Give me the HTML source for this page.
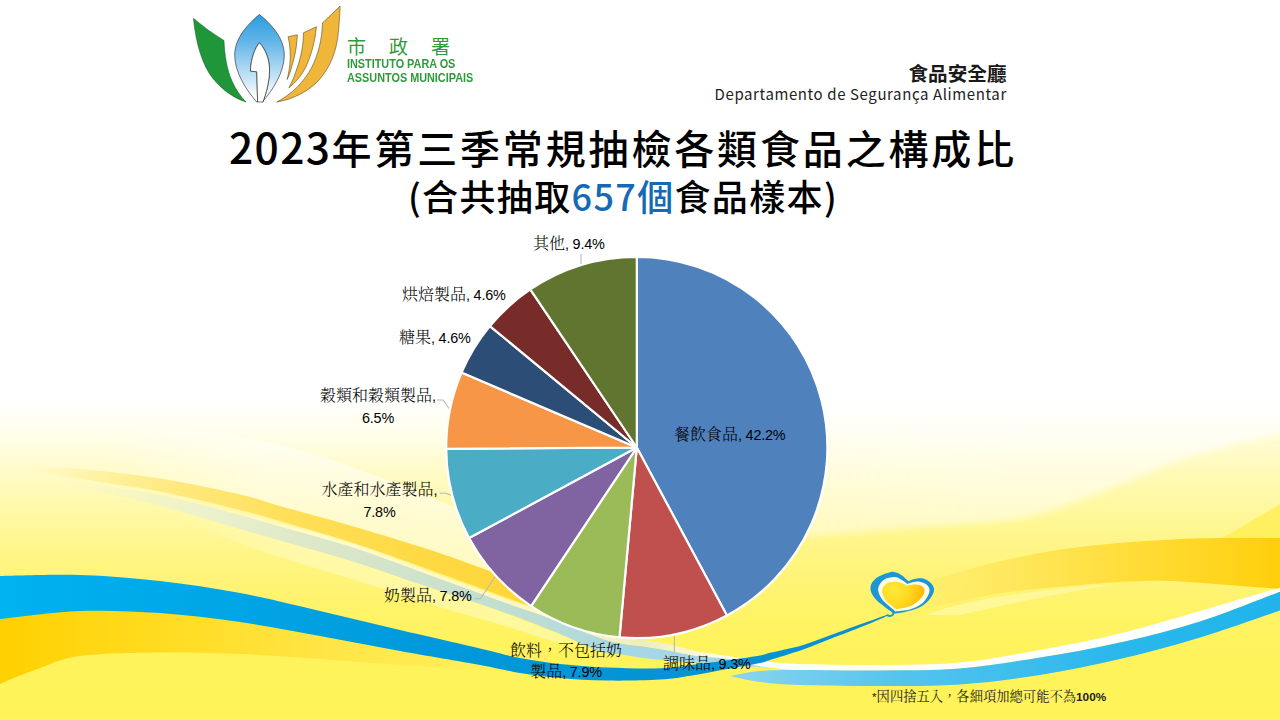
<!DOCTYPE html>
<html lang="zh-Hant">
<head>
<meta charset="utf-8">
<title>2023年第三季常規抽檢各類食品之構成比</title>
<style>
html,body{margin:0;padding:0;}
body{width:1280px;height:720px;overflow:hidden;position:relative;background:#fff;
  font-family:"Liberation Sans","Noto Sans CJK TC","Noto Sans CJK SC",sans-serif;}
#bg{position:absolute;left:0;top:0;width:1280px;height:720px;display:block;}
.abs{position:absolute;white-space:nowrap;line-height:1;}
.title{font-family:"Noto Sans CJK TC","Noto Sans CJK SC","Liberation Sans",sans-serif;font-weight:500;color:#000;}
#t1{left:0;width:1246px;text-align:center;top:118px;font-size:40px;line-height:56px;letter-spacing:2.85px;}
#t1 span{font-size:42.5px;letter-spacing:1.4px;}
#t2{left:0;width:1246px;text-align:center;top:169px;font-size:36px;line-height:52px;letter-spacing:1.35px;}
#t2 b{font-weight:500;color:#166ab3;}
.lbl{font-family:"Liberation Sans","Noto Serif CJK TC","Noto Serif CJK SC",serif;font-size:16px;font-weight:300;color:#000;text-align:center;line-height:21px;}
.lbl i{font-style:normal;font-size:14.4px;font-weight:400;letter-spacing:-0.2px;}
#dept1{right:273.5px;top:62px;font-size:19.6px;font-weight:700;color:#1a1a1a;font-family:"Noto Sans CJK TC","Noto Sans CJK SC",sans-serif;line-height:22px;}
#dept2{right:273.2px;top:84px;font-size:15px;letter-spacing:0.6px;color:#222;font-family:"Noto Sans CJK TC","Liberation Sans",sans-serif;line-height:20px;}
#org1{left:347px;top:34.5px;font-size:19px;font-weight:400;color:#2e9a3a;letter-spacing:23px;font-family:"Noto Sans CJK TC","Noto Sans CJK SC",sans-serif;line-height:22px;}
.org2{left:347.3px;font-size:13px;font-weight:700;color:#2e9a3a;font-family:"Liberation Sans",sans-serif;transform-origin:0 0;transform:scaleX(0.835);}
#foot{left:872px;top:687px;font-size:13.3px;color:#222;font-family:"Liberation Sans","Noto Serif CJK TC","Noto Serif CJK SC",serif;line-height:20px;}
#foot i{font-style:normal;font-size:11.8px;font-weight:700;}
#foot i.s{font-weight:400;}
</style>
</head>
<body>
<svg id="bg" width="1280" height="720" viewBox="0 0 1280 720">
<defs>
<linearGradient id="gbg" x1="0" y1="0" x2="0" y2="720" gradientUnits="userSpaceOnUse">
<stop offset="0" stop-color="#ffffff"/>
<stop offset="0.555" stop-color="#ffffff"/>
<stop offset="0.60" stop-color="#fffeec"/>
<stop offset="0.655" stop-color="#fffbc8"/>
<stop offset="0.72" stop-color="#fff8a2"/>
<stop offset="0.78" stop-color="#fff582"/>
<stop offset="0.835" stop-color="#fff36c"/>
<stop offset="0.89" stop-color="#fff35e"/>
<stop offset="1" stop-color="#fff358"/>
</linearGradient>
</defs>
<rect width="1280" height="720" fill="url(#gbg)"/>
<defs>
<linearGradient id="gBlue" x1="0" y1="0" x2="900" y2="0" gradientUnits="userSpaceOnUse">
<stop offset="0" stop-color="#00b2f0"/><stop offset="0.25" stop-color="#00a6e6"/><stop offset="0.5" stop-color="#0098da"/><stop offset="1" stop-color="#0a8fd0"/>
</linearGradient>
<linearGradient id="gGoldL" x1="0" y1="0" x2="540" y2="0" gradientUnits="userSpaceOnUse">
<stop offset="0" stop-color="#ffd000"/><stop offset="0.3" stop-color="#ffdc20"/><stop offset="0.6" stop-color="#ffe545"/><stop offset="0.8" stop-color="#ffea52" stop-opacity="0.9"/><stop offset="1" stop-color="#fff060" stop-opacity="0"/>
</linearGradient>
<linearGradient id="gGoldD" x1="30" y1="0" x2="560" y2="0" gradientUnits="userSpaceOnUse">
<stop offset="0" stop-color="#ffe470" stop-opacity="0"/><stop offset="0.25" stop-color="#ffe470" stop-opacity="0.75"/><stop offset="0.5" stop-color="#ffdf58"/><stop offset="0.8" stop-color="#ffd840"/><stop offset="1" stop-color="#ffd535"/>
</linearGradient>
<linearGradient id="gGray" x1="60" y1="0" x2="770" y2="0" gradientUnits="userSpaceOnUse">
<stop offset="0" stop-color="#eef3d2" stop-opacity="0"/><stop offset="0.2" stop-color="#eaf1d0" stop-opacity="0.9"/><stop offset="0.35" stop-color="#dde8c8"/><stop offset="0.52" stop-color="#cde2cc"/><stop offset="0.7" stop-color="#b8dcd6"/><stop offset="0.8" stop-color="#a6d7e6"/><stop offset="0.93" stop-color="#a4d6ea"/><stop offset="1" stop-color="#9fd4ec"/>
</linearGradient>
<linearGradient id="gLblue" x1="732" y1="0" x2="1280" y2="0" gradientUnits="userSpaceOnUse">
<stop offset="0" stop-color="#8ad4ee"/><stop offset="0.3" stop-color="#55c4ee"/><stop offset="0.7" stop-color="#2ab8ec"/><stop offset="1" stop-color="#20b4ea"/>
</linearGradient>
<linearGradient id="gGoldR" x1="905" y1="0" x2="1280" y2="0" gradientUnits="userSpaceOnUse">
<stop offset="0" stop-color="#ffec68" stop-opacity="0"/><stop offset="0.12" stop-color="#ffec68" stop-opacity="0.9"/><stop offset="0.3" stop-color="#ffe75c"/><stop offset="0.5" stop-color="#ffe044"/><stop offset="0.75" stop-color="#ffd828"/><stop offset="1" stop-color="#ffce0c"/>
</linearGradient>
<linearGradient id="gWedgeA" x1="0" y1="430" x2="0" y2="640" gradientUnits="userSpaceOnUse">
<stop offset="0" stop-color="#fff9b0" stop-opacity="0.3"/><stop offset="0.5" stop-color="#fff580" stop-opacity="0.4"/><stop offset="1" stop-color="#fff262" stop-opacity="0"/>
</linearGradient>
<linearGradient id="gSwC" x1="100" y1="0" x2="560" y2="0" gradientUnits="userSpaceOnUse">
<stop offset="0" stop-color="#ffffff" stop-opacity="0"/><stop offset="0.35" stop-color="#ffffff" stop-opacity="0.45"/><stop offset="1" stop-color="#ffffff" stop-opacity="0.55"/>
</linearGradient>
<linearGradient id="gCream2" x1="160" y1="0" x2="620" y2="0" gradientUnits="userSpaceOnUse">
<stop offset="0" stop-color="#fffbc0" stop-opacity="0"/><stop offset="0.3" stop-color="#fffbc0" stop-opacity="0.6"/><stop offset="0.85" stop-color="#fffbc0" stop-opacity="0.6"/><stop offset="1" stop-color="#fffbc0" stop-opacity="0"/>
</linearGradient>
<linearGradient id="gWhiteR" x1="640" y1="0" x2="1000" y2="0" gradientUnits="userSpaceOnUse">
<stop offset="0" stop-color="#ffffff" stop-opacity="0"/><stop offset="0.5" stop-color="#ffffff" stop-opacity="0.38"/><stop offset="1" stop-color="#ffffff" stop-opacity="0.45"/>
</linearGradient>
<filter id="fBlur" filterUnits="userSpaceOnUse" x="560" y="360" width="760" height="380"><feGaussianBlur stdDeviation="3"/></filter>
<linearGradient id="gCreamT" x1="200" y1="0" x2="770" y2="0" gradientUnits="userSpaceOnUse">
<stop offset="0" stop-color="#fffbd0" stop-opacity="0"/><stop offset="0.2" stop-color="#fffbd0" stop-opacity="0.9"/><stop offset="0.65" stop-color="#fbf6c4"/><stop offset="0.78" stop-color="#eeeeb8"/><stop offset="0.9" stop-color="#fdfbe4"/><stop offset="1" stop-color="#ffffff"/>
</linearGradient>
</defs>
<g filter="url(#fBlur)"><path d="M700.0,560.0 C710.0,557.0 726.7,547.3 760.0,542.0 C793.3,536.7 856.7,532.0 900.0,528.0 C943.3,524.0 986.7,524.0 1020.0,518.0 C1053.3,512.0 1075.7,500.8 1100.0,492.0 C1124.3,483.2 1144.3,472.8 1166.0,465.0 C1187.7,457.2 1209.3,450.8 1230.0,445.0 C1250.7,439.2 1280.0,432.5 1290.0,430.0 L1290,395 L700,395 Z" fill="url(#gWhiteR)"/>
<path d="M700.0,560.0 C710.0,557.0 726.7,547.3 760.0,542.0 C793.3,536.7 856.7,532.0 900.0,528.0 C943.3,524.0 986.7,524.0 1020.0,518.0 C1053.3,512.0 1075.7,500.8 1100.0,492.0 C1124.3,483.2 1144.3,472.8 1166.0,465.0 C1187.7,457.2 1209.3,450.8 1230.0,445.0 C1250.7,439.2 1280.0,432.5 1290.0,430.0 L1290,720 L700,720 Z" fill="url(#gWedgeA)"/></g>
<path d="M1160.0,578.0 C1165.0,574.7 1180.2,564.3 1190.0,558.0 C1199.8,551.7 1209.0,546.0 1219.0,540.0 C1229.0,534.0 1238.2,529.0 1250.0,522.0 C1261.8,515.0 1283.3,502.0 1290.0,498.0 L1290,560 L1160,578 Z" fill="#ffee58" opacity="0.85"/>
<path d="M120.0,430.0 C133.3,430.3 173.3,429.5 200.0,432.0 C226.7,434.5 254.2,439.0 280.0,445.0 C305.8,451.0 330.0,459.3 355.0,468.0 C380.0,476.7 408.2,488.3 430.0,497.0 C451.8,505.7 464.3,510.8 486.0,520.0 C507.7,529.2 547.7,546.7 560.0,552.0 L560.0,597.0 C547.7,592.5 507.7,577.5 486.0,569.7 C464.3,561.9 451.8,557.1 430.0,550.0 C408.2,542.9 380.0,534.3 355.0,527.0 C330.0,519.7 299.2,511.4 280.0,506.0 C260.8,500.6 260.0,499.1 240.0,494.5 C220.0,489.9 186.7,482.8 160.0,478.5 C133.3,474.2 93.3,470.6 80.0,469.0 Z" fill="url(#gSwC)"/>
<path d="M160.0,506.0 C173.3,509.8 220.0,523.2 240.0,529.0 C260.0,534.8 260.8,535.1 280.0,540.6 C299.2,546.1 330.0,554.4 355.0,562.2 C380.0,570.0 405.0,579.1 430.0,587.5 C455.0,595.9 483.3,605.0 505.0,612.8 C526.7,620.5 540.8,627.8 560.0,634.0 C579.2,640.2 610.0,647.3 620.0,650.0 L620.0,652.0 C610.0,650.5 579.2,647.3 560.0,643.0 C540.8,638.7 526.7,632.5 505.0,626.0 C483.3,619.5 455.0,611.7 430.0,604.0 C405.0,596.3 380.0,587.8 355.0,580.0 C330.0,572.2 299.2,563.2 280.0,557.0 C260.8,550.8 260.0,550.5 240.0,543.0 C220.0,535.5 173.3,517.2 160.0,512.0 Z" fill="url(#gCream2)"/>
<path d="M30.0,466.0 C38.3,466.5 58.3,466.9 80.0,469.0 C101.7,471.1 133.3,474.2 160.0,478.5 C186.7,482.8 220.0,489.9 240.0,494.5 C260.0,499.1 260.8,500.6 280.0,506.0 C299.2,511.4 330.0,519.7 355.0,527.0 C380.0,534.3 408.2,542.9 430.0,550.0 C451.8,557.1 464.3,561.9 486.0,569.7 C507.7,577.5 547.7,592.5 560.0,597.0 L560.0,618.0 C550.8,614.5 526.7,605.0 505.0,597.0 C483.3,589.0 455.0,578.6 430.0,569.7 C405.0,560.8 380.0,551.5 355.0,543.4 C330.0,535.3 299.2,526.6 280.0,521.0 C260.8,515.4 260.0,514.9 240.0,510.0 C220.0,505.1 186.7,496.7 160.0,491.5 C133.3,486.3 101.7,482.6 80.0,479.0 C58.3,475.4 38.3,471.5 30.0,470.0 Z" fill="url(#gGoldD)"/>
<path d="M60.0,478.0 C63.3,478.7 63.3,479.2 80.0,482.0 C96.7,484.8 133.3,489.5 160.0,495.0 C186.7,500.5 220.0,509.8 240.0,515.0 C260.0,520.2 260.8,521.0 280.0,526.5 C299.2,532.0 330.0,539.9 355.0,548.0 C380.0,556.1 405.0,566.2 430.0,575.3 C455.0,584.4 483.3,594.7 505.0,602.5 C526.7,610.3 544.2,616.1 560.0,622.0 C575.8,627.9 589.5,634.4 600.0,638.0 C610.5,641.6 615.2,642.3 623.0,643.8 C630.8,645.2 639.2,645.7 647.0,646.9 C654.8,648.1 662.2,649.4 670.0,650.8 C677.8,652.2 684.8,654.2 694.0,655.5 C703.2,656.8 716.5,657.6 725.0,658.6 C733.5,659.6 737.5,660.5 745.0,661.5 C752.5,662.5 765.8,664.0 770.0,664.5 L770.0,667.5 C765.8,667.3 752.5,666.9 745.0,666.5 C737.5,666.1 733.5,666.0 725.0,665.3 C716.5,664.6 703.2,663.2 694.0,662.5 C684.8,661.8 677.8,661.6 670.0,661.0 C662.2,660.4 654.8,659.6 647.0,658.6 C639.2,657.6 630.8,655.9 623.0,654.7 C615.2,653.5 610.5,655.0 600.0,651.5 C589.5,648.0 575.8,640.5 560.0,634.0 C544.2,627.5 526.7,620.5 505.0,612.8 C483.3,605.0 455.0,595.9 430.0,587.5 C405.0,579.1 380.0,570.0 355.0,562.2 C330.0,554.4 299.2,546.1 280.0,540.6 C260.8,535.1 260.0,534.8 240.0,529.0 C220.0,523.2 186.7,513.0 160.0,506.0 C133.3,499.0 96.7,491.3 80.0,487.0 C63.3,482.7 63.3,481.2 60.0,480.0 Z" fill="url(#gGray)"/>
<path d="M200.0,502.0 C213.3,505.5 254.2,515.9 280.0,523.0 C305.8,530.1 330.0,536.4 355.0,544.5 C380.0,552.6 405.0,562.5 430.0,571.5 C455.0,580.5 483.3,590.8 505.0,598.5 C526.7,606.2 544.2,611.8 560.0,617.5 C575.8,623.2 589.5,629.2 600.0,632.5 C610.5,635.8 615.2,636.1 623.0,637.5 C630.8,638.9 639.2,639.4 647.0,640.6 C654.8,641.8 662.2,642.8 670.0,644.5 C677.8,646.2 684.8,649.0 694.0,650.8 C703.2,652.6 716.5,654.1 725.0,655.5 C733.5,656.9 737.5,657.9 745.0,659.0 C752.5,660.1 765.8,661.5 770.0,662.0 L770.0,664.5 C765.8,664.0 752.5,662.5 745.0,661.5 C737.5,660.5 733.5,659.6 725.0,658.6 C716.5,657.6 703.2,656.8 694.0,655.5 C684.8,654.2 677.8,652.2 670.0,650.8 C662.2,649.4 654.8,648.1 647.0,646.9 C639.2,645.7 630.8,645.2 623.0,643.8 C615.2,642.3 610.5,641.6 600.0,638.0 C589.5,634.4 575.8,627.9 560.0,622.0 C544.2,616.1 526.7,610.3 505.0,602.5 C483.3,594.7 455.0,584.4 430.0,575.3 C405.0,566.2 380.0,556.1 355.0,548.0 C330.0,539.9 305.8,533.8 280.0,526.5 C254.2,519.2 213.3,508.2 200.0,504.5 Z" fill="url(#gCreamT)"/>
<path d="M926,615 C960,602 1010,592 1112,584 C1060,594 1010,603 960,615 Z" fill="#fff9a8" opacity="0.75"/>
<path d="M905.0,590.0 C908.7,588.5 920.8,583.2 927.0,581.0 C933.2,578.8 929.0,580.5 942.0,577.0 C955.0,573.5 982.0,565.0 1005.0,560.0 C1028.0,555.0 1050.8,550.5 1080.0,547.0 C1109.2,543.5 1146.7,540.5 1180.0,539.0 C1213.3,537.5 1261.7,538.2 1280.0,538.0 C1298.3,537.8 1288.3,538.0 1290.0,538.0 L1290.0,590.0 C1288.3,589.8 1298.3,590.4 1280.0,589.0 C1261.7,587.6 1205.0,582.8 1180.0,581.5 C1155.0,580.2 1146.7,580.9 1130.0,581.5 C1113.3,582.1 1100.8,583.2 1080.0,585.0 C1059.2,586.8 1028.0,589.2 1005.0,592.5 C982.0,595.8 958.7,601.2 942.0,605.0 C925.3,608.8 911.2,613.3 905.0,615.0 Z" fill="url(#gGoldR)"/>
<path d="M-10.0,600.0 C-8.3,600.0 -15.0,600.0 0.0,600.0 C15.0,600.0 53.3,599.2 80.0,600.0 C106.7,600.8 133.3,602.5 160.0,605.0 C186.7,607.5 213.3,610.8 240.0,615.0 C266.7,619.2 293.3,624.5 320.0,630.0 C346.7,635.5 373.3,642.7 400.0,648.0 C426.7,653.3 456.7,658.3 480.0,662.0 C503.3,665.7 530.0,668.7 540.0,670.0 L540.0,672.0 C530.0,671.7 503.3,671.2 480.0,670.0 C456.7,668.8 426.7,666.8 400.0,665.0 C373.3,663.2 346.7,660.8 320.0,659.0 C293.3,657.2 266.7,655.1 240.0,654.0 C213.3,652.9 186.7,652.2 160.0,652.5 C133.3,652.8 100.0,653.4 80.0,656.0 C60.0,658.6 53.3,663.3 40.0,668.0 C26.7,672.7 8.3,680.3 0.0,684.0 C-8.3,687.7 -8.3,689.0 -10.0,690.0 Z" fill="url(#gGoldL)"/>
<path d="M745.0,659.0 C749.2,659.5 760.8,661.2 770.0,662.0 C779.2,662.8 781.7,663.5 800.0,664.0 C818.3,664.5 853.3,665.2 880.0,665.0 C906.7,664.8 933.3,665.0 960.0,662.5 C986.7,660.0 1013.3,654.8 1040.0,650.0 C1066.7,645.2 1093.3,640.0 1120.0,633.5 C1146.7,627.0 1174.7,618.2 1200.0,611.0 C1225.3,603.8 1257.0,594.2 1272.0,590.0 C1287.0,585.8 1287.0,586.7 1290.0,586.0 L1290.0,588.0 C1288.3,588.6 1295.0,586.1 1280.0,591.7 C1265.0,597.3 1226.7,613.0 1200.0,621.5 C1173.3,630.0 1146.7,636.5 1120.0,642.5 C1093.3,648.5 1066.7,653.2 1040.0,657.5 C1013.3,661.8 986.7,666.3 960.0,668.5 C933.3,670.7 906.7,670.2 880.0,670.5 C853.3,670.8 818.3,670.5 800.0,670.0 C781.7,669.5 779.2,668.5 770.0,667.5 C760.8,666.5 749.2,664.6 745.0,664.0 Z" fill="#ffffff"/>
<path d="M730.0,676.0 C735.0,675.2 748.3,672.0 760.0,671.0 C771.7,670.0 780.0,670.1 800.0,670.0 C820.0,669.9 853.3,670.8 880.0,670.5 C906.7,670.2 933.3,670.7 960.0,668.5 C986.7,666.3 1013.3,661.8 1040.0,657.5 C1066.7,653.2 1093.3,648.5 1120.0,642.5 C1146.7,636.5 1173.3,630.0 1200.0,621.5 C1226.7,613.0 1265.0,597.3 1280.0,591.7 C1295.0,586.1 1288.3,588.6 1290.0,588.0 L1290.0,607.0 C1288.3,607.6 1295.0,605.4 1280.0,610.5 C1265.0,615.6 1226.7,629.4 1200.0,637.5 C1173.3,645.6 1146.7,652.8 1120.0,659.0 C1093.3,665.2 1066.7,670.8 1040.0,675.0 C1013.3,679.2 986.7,682.7 960.0,684.5 C933.3,686.3 906.7,685.9 880.0,686.0 C853.3,686.1 820.0,685.7 800.0,685.0 C780.0,684.3 771.7,683.5 760.0,682.0 C748.3,680.5 735.0,677.0 730.0,676.0 Z" fill="url(#gLblue)"/>
<path d="M-10.0,577.0 C-8.3,576.8 -15.0,576.3 0.0,576.0 C15.0,575.7 53.3,574.2 80.0,575.0 C106.7,575.8 133.3,578.0 160.0,581.0 C186.7,584.0 213.3,588.0 240.0,593.0 C266.7,598.0 293.3,604.8 320.0,611.0 C346.7,617.2 373.3,623.8 400.0,630.0 C426.7,636.2 460.0,643.8 480.0,648.5 C500.0,653.2 506.7,655.4 520.0,658.0 C533.3,660.6 545.5,662.4 560.0,664.0 C574.5,665.6 590.3,666.8 607.0,667.5 C623.7,668.2 645.3,668.8 660.0,668.3 C674.7,667.8 683.3,666.0 695.0,664.6 C706.7,663.2 719.2,661.5 730.0,660.0 C740.8,658.5 753.3,656.7 760.0,655.5 C766.7,654.3 762.9,654.5 770.0,652.8 C777.1,651.1 791.7,648.4 802.5,645.2 C813.3,642.0 824.2,637.4 835.0,633.5 C845.8,629.6 859.0,624.8 867.5,621.8 C876.0,618.8 882.5,616.4 885.8,615.2 C889.1,614.0 887.1,614.8 887.4,614.7 L887.4,615.6 C887.1,615.8 889.1,615.0 885.8,616.5 C882.5,618.0 876.0,621.0 867.5,624.4 C859.0,627.8 845.8,632.9 835.0,637.1 C824.2,641.3 813.3,646.0 802.5,649.8 C791.7,653.6 777.1,657.7 770.0,659.9 C762.9,662.1 766.7,661.5 760.0,663.0 C753.3,664.5 740.8,666.6 730.0,668.6 C719.2,670.6 706.7,673.2 695.0,675.0 C683.3,676.8 674.7,678.7 660.0,679.6 C645.3,680.5 623.7,680.9 607.0,680.6 C590.3,680.3 574.5,679.3 560.0,678.0 C545.5,676.7 533.3,675.2 520.0,673.0 C506.7,670.8 500.0,668.7 480.0,665.0 C460.0,661.3 426.7,655.8 400.0,651.0 C373.3,646.2 346.7,640.8 320.0,636.0 C293.3,631.2 266.7,625.8 240.0,622.0 C213.3,618.2 186.7,614.8 160.0,613.0 C133.3,611.2 106.7,610.0 80.0,611.0 C53.3,612.0 15.0,617.5 0.0,619.0 C-15.0,620.5 -8.3,619.8 -10.0,620.0 Z" fill="url(#gBlue)"/>
<defs>
<radialGradient id="gHeart" cx="894" cy="590" r="34" gradientUnits="userSpaceOnUse">
<stop offset="0" stop-color="#ffea38"/><stop offset="0.45" stop-color="#ffd820"/><stop offset="0.8" stop-color="#ffbe08"/><stop offset="1" stop-color="#ffae00"/>
</radialGradient>
</defs>
<path fill="#1b97d5" d="M908.3,581.2 C907.3,580.3 904.4,577.2 902.4,575.8 C900.4,574.4 898.2,573.2 896.1,572.6 C894.0,572.0 893.1,571.3 889.8,572.2 C886.5,573.1 879.4,575.5 876.2,578.1 C873.0,580.7 870.5,584.5 870.4,588.0 C870.2,591.5 872.5,595.3 875.3,598.8 C878.1,602.2 883.9,606.3 887.1,608.7 C890.3,611.1 893.4,612.6 894.7,613.4 C896.4,613.1 901.1,612.8 905.1,611.9 C909.1,611.0 914.8,609.7 918.7,607.8 C922.6,605.9 926.1,603.5 928.6,600.6 C931.1,597.8 933.5,593.6 934.0,590.7 C934.5,587.9 933.1,585.5 931.3,583.5 C929.5,581.5 926.1,579.2 923.2,578.5 C920.4,577.8 916.7,578.5 914.2,579.0 C911.7,579.5 909.3,580.8 908.3,581.2 Z"/>
<path fill="#fffbe0" d="M907.4,583.9 C906.3,583.2 903.2,580.6 901.0,579.5 C898.8,578.4 897.2,577.0 894.3,577.1 C891.4,577.2 886.2,577.9 883.5,579.9 C880.8,581.9 878.4,585.8 878.1,588.9 C877.8,592.0 880.0,596.0 881.7,598.8 C883.4,601.6 886.2,603.4 888.5,605.5 C890.8,607.6 894.1,610.4 895.2,611.4 C897.8,611.0 905.8,610.7 910.5,609.2 C915.2,607.7 920.0,605.3 923.2,602.4 C926.4,599.5 928.9,594.5 929.5,591.6 C930.1,588.7 928.4,586.4 926.8,584.8 C925.1,583.1 921.9,582.2 919.6,581.7 C917.3,581.2 915.2,581.7 913.2,582.1 C911.2,582.5 908.4,583.6 907.4,583.9 Z"/>
<path fill="url(#gHeart)" d="M906.9,585.7 C905.9,585.2 903.1,583.5 901.0,582.8 C898.9,582.1 896.8,581.5 894.3,581.7 C891.8,581.9 888.2,582.4 886.2,583.9 C884.2,585.4 882.2,588.1 882.1,590.7 C882.0,593.3 883.9,597.4 885.3,599.7 C886.7,602.0 888.7,602.9 890.5,604.5 C892.3,606.1 895.2,608.4 896.1,609.2 C898.5,608.7 906.4,607.7 910.5,606.0 C914.6,604.3 918.2,601.2 920.5,598.8 C922.8,596.4 924.2,593.6 924.5,591.6 C924.8,589.6 923.6,587.7 922.3,586.6 C921.0,585.5 918.7,585.1 916.9,584.8 C915.1,584.5 913.1,584.6 911.4,584.8 C909.7,584.9 907.6,585.6 906.9,585.7 Z"/>
<path fill="none" stroke="#1b97d5" stroke-width="2" stroke-linecap="round" d="M892,610.5 C894,612.5 893.8,614.8 891.5,615.6 C890,616.1 888.6,615.9 887.6,615.3"/>

<rect x="0" y="719" width="1280" height="1" fill="#fff56c"/>

<g fill="none" stroke="#b8b8b8" stroke-width="1.1">
<path d="M581,254 V265"/>
<path d="M437,400 H443 L450.5,410.5"/>
<path d="M439.8,493.3 H446 L451.5,495.5"/>
<path d="M474.6,598.8 H480.4 L495.4,576.3"/>
<path d="M674.4,633 V652.5"/>
</g>
<g stroke="#ffffff" stroke-width="2.2" stroke-linejoin="round">
<path d="M636.8,447.5 L636.80,256.90 A190.6,190.6 0 0 1 726.92,615.45 Z" fill="#4F81BD"/>
<path d="M636.8,447.5 L726.92,615.45 A190.6,190.6 0 0 1 619.51,637.31 Z" fill="#C0504D"/>
<path d="M636.8,447.5 L619.51,637.31 A190.6,190.6 0 0 1 531.05,606.07 Z" fill="#9BBB59"/>
<path d="M636.8,447.5 L531.05,606.07 A190.6,190.6 0 0 1 469.07,538.03 Z" fill="#8064A2"/>
<path d="M636.8,447.5 L469.07,538.03 A190.6,190.6 0 0 1 446.20,448.87 Z" fill="#4BACC6"/>
<path d="M636.8,447.5 L446.20,448.87 A190.6,190.6 0 0 1 461.55,372.57 Z" fill="#F79646"/>
<path d="M636.8,447.5 L461.55,372.57 A190.6,190.6 0 0 1 489.92,326.04 Z" fill="#2C4D75"/>
<path d="M636.8,447.5 L489.92,326.04 A190.6,190.6 0 0 1 530.29,289.43 Z" fill="#772C2A"/>
<path d="M636.8,447.5 L530.29,289.43 A190.6,190.6 0 0 1 636.80,256.90 Z" fill="#5F7530"/>
</g>
<defs>
<linearGradient id="gLeaf" x1="0" y1="14" x2="0" y2="102" gradientUnits="userSpaceOnUse">
<stop offset="0" stop-color="#2a9ce0"/><stop offset="0.3" stop-color="#5fb4e8"/><stop offset="0.65" stop-color="#b4dbf3"/><stop offset="0.95" stop-color="#ffffff"/>
</linearGradient>
</defs>
<g stroke="#1c1c1c" stroke-width="0.6" stroke-linejoin="round">
<path d="M193.4,18.3 Q208,31 224,40.5 C224.5,55 227,70 232,81 C236,90 241,97 246.1,102.1 C234,98 222,90 212.5,77.9 C203,66 196,45 193.4,18.3 Z" fill="#1f9639" stroke="#0e5a20" stroke-width="0.5"/>
<path d="M259.4,14.5 C248,24 234.7,38 234.7,55 C234.7,72 246,90 256.8,102 L257.6,102 L256.8,71.8 L250.4,71 C251,58 255,48 259.4,42.8 C266,50 269.5,60 269.5,70 C269.5,82 266,94 262.9,102 L262.2,102 C273,90 284.3,72 284.3,55 C284.3,38 271,24 259.4,14.5 Z" fill="url(#gLeaf)"/>
<path d="M259.4,42.8 C255,48 251,58 250.4,71 L256.8,71.8 L257.6,102 L262.9,102 C266,94 269.5,82 269.5,70 C269.5,60 266,50 259.4,42.8 Z" fill="#ffffff"/>
<path d="M340.1,6.1 Q331,15 322.5,22.9 C322,40 318,55 311.8,67.2 C304,82 292,94 276.7,102.1 C294,99 309,91 319.5,79.5 C331,66 337,50 338.5,30.6 C339.5,20 340,12 340.1,6.1 Z" fill="#f0b63a" stroke="#3c3214" stroke-width="0.5"/>
<path d="M316.4,26.7 L303.4,32.8 C303.5,45 301,57 297.3,67.2 C295,75 292,82 288.9,87.9 C296,82 302,75 305.7,67.2 C311,56 315,42 316.4,26.7 Z" fill="#f0b63a" stroke="#3c3214" stroke-width="0.5"/>
<path d="M297.3,34.8 L288.1,36.7 C290,45 291,55 289.7,65.7 C289,71 288,76 287.1,79.5 C289.5,75 291,70 292,65.7 C295,56 297,46 297.3,34.8 Z" fill="#f0b63a" stroke="#3c3214" stroke-width="0.5"/>
</g>

</svg>
<div class="abs" id="org1">市政署</div>
<div class="abs org2" style="top:57.3px;">INSTITUTO PARA OS</div>
<div class="abs org2" style="top:71.3px;">ASSUNTOS MUNICIPAIS</div>
<div class="abs" id="dept1">食品安全廳</div>
<div class="abs" id="dept2">Departamento de Segurança Alimentar</div>
<div class="abs title" id="t1"><span>2023</span>年第三季常規抽檢各類食品之構成比</div>
<div class="abs title" id="t2">(合共抽取<b>657個</b>食品樣本)</div>
<div class="abs lbl" id="l1" style="left:533px;top:233.3px;">其他<i>, 9.4%</i></div>
<div class="abs lbl" id="l2" style="left:402px;top:284.3px;">烘焙製品<i>, 4.6%</i></div>
<div class="abs lbl" id="l3" style="left:399px;top:327.3px;">糖果<i>, 4.6%</i></div>
<div class="abs lbl" id="l4" style="left:319px;top:385.3px;width:118px;">穀類和穀類製品<i>,</i><br><i>6.5%</i></div>
<div class="abs lbl" id="l5" style="left:320.5px;top:479.3px;width:118px;">水產和水產製品<i>,</i><br><i>7.8%</i></div>
<div class="abs lbl" id="l6" style="left:384px;top:585.3px;">奶製品<i>, 7.8%</i></div>
<div class="abs lbl" id="l7" style="left:506px;top:639.5px;width:120px;">飲料，不包括奶<br>製品<i>, 7.9%</i></div>
<div class="abs lbl" id="l8" style="left:663px;top:653.3px;">調味品<i>, 9.3%</i></div>
<div class="abs lbl" id="l9" style="left:674px;top:424.3px;">餐飲食品<i>, 42.2%</i></div>
<div class="abs" id="foot"><i class="s">*</i>因四捨五入，各細項加總可能不為<i>100%</i></div>

</body>
</html>
